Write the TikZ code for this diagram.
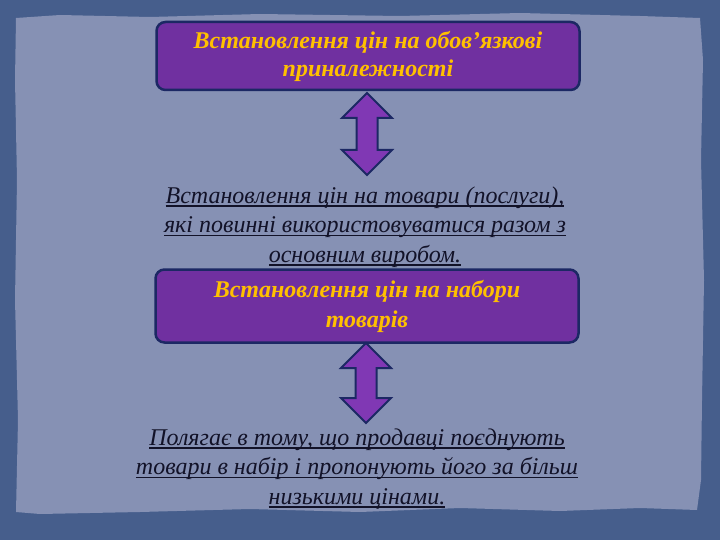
\documentclass[tikz,border=0pt]{standalone}
\usepackage{fontspec}
\setmainfont{Liberation Serif}
\usetikzlibrary{positioning, shapes.arrows}

\definecolor{slateout}{RGB}{70,94,140}
\definecolor{slatein}{RGB}{134,145,180}
\definecolor{boxpurple}{RGB}{112,48,160}
\definecolor{boxline}{RGB}{28,40,100}
\definecolor{arrowpurple}{RGB}{128,56,180}
\definecolor{goldtext}{RGB}{255,192,0}
\definecolor{darktext}{RGB}{18,18,40}
\newcommand{\ulbar}[1]{\setbox0\hbox{#1}\leavevmode\rlap{\rule[-3.5pt]{\wd0}{1.6pt}}\box0}

\begin{document}
\begin{tikzpicture}[x=1pt, y=-1pt,
    titlebox/.style={rectangle, draw=boxline, line width=2.5pt, rounded corners=9pt, fill=boxpurple, minimum width=423pt, text=goldtext, align=center, font=\fontsize{24}{28}\selectfont\bfseries\itshape},
    note/.style={align=center, text=darktext, font=\fontsize{24}{29.5}\selectfont\itshape, inner sep=0pt},
    dblarrow/.style={double arrow, draw=boxline, line width=2pt, fill=arrowpurple, rotate=90, double arrow head extend=14.5pt, inner xsep=0pt, inner ysep=9.5pt}
]
\useasboundingbox (0,0) rectangle (720,540);

% background
\fill[slateout] (0,0) rectangle (720,540);
\fill[slatein] (16,18) -- (60,15) -- (150,17) -- (260,14) -- (400,16) -- (520,13) -- (640,16) -- (700,18)
  -- (703,60) -- (701,160) -- (704,280) -- (702,400) -- (701,480) -- (697,510)
  -- (640,508) -- (560,511) -- (460,508) -- (360,512) -- (250,509) -- (140,512) -- (40,514) -- (16,512)
  -- (18,420) -- (15,300) -- (17,180) -- (15,80) -- cycle;

% upper part
\node[titlebox, minimum height=68pt] (obov) at (368,56) {Встановлення цін на обов’язкові\\приналежності};
\node[dblarrow, minimum height=82pt] (arr1) at (367,134) {};
\node[note] (dodat) at (365,227) {\ulbar{Встановлення цін на товари (послуги),}\\\ulbar{які повинні використовуватися разом з}\\\ulbar{основним виробом.}};

% lower part
\node[titlebox, minimum height=73pt, font=\fontsize{24}{30}\selectfont\bfseries\itshape] (nabir) at (367,306) {Встановлення цін на набори\\товарів};
\node[dblarrow, minimum height=80pt] (arr2) at (366,383) {};
\node[note] (poedn) at (357,469) {\ulbar{Полягає в тому, що продавці поєднують}\\\ulbar{товари в набір і пропонують його за більш}\\\ulbar{низькими цінами.}};

\end{tikzpicture}
\end{document}
